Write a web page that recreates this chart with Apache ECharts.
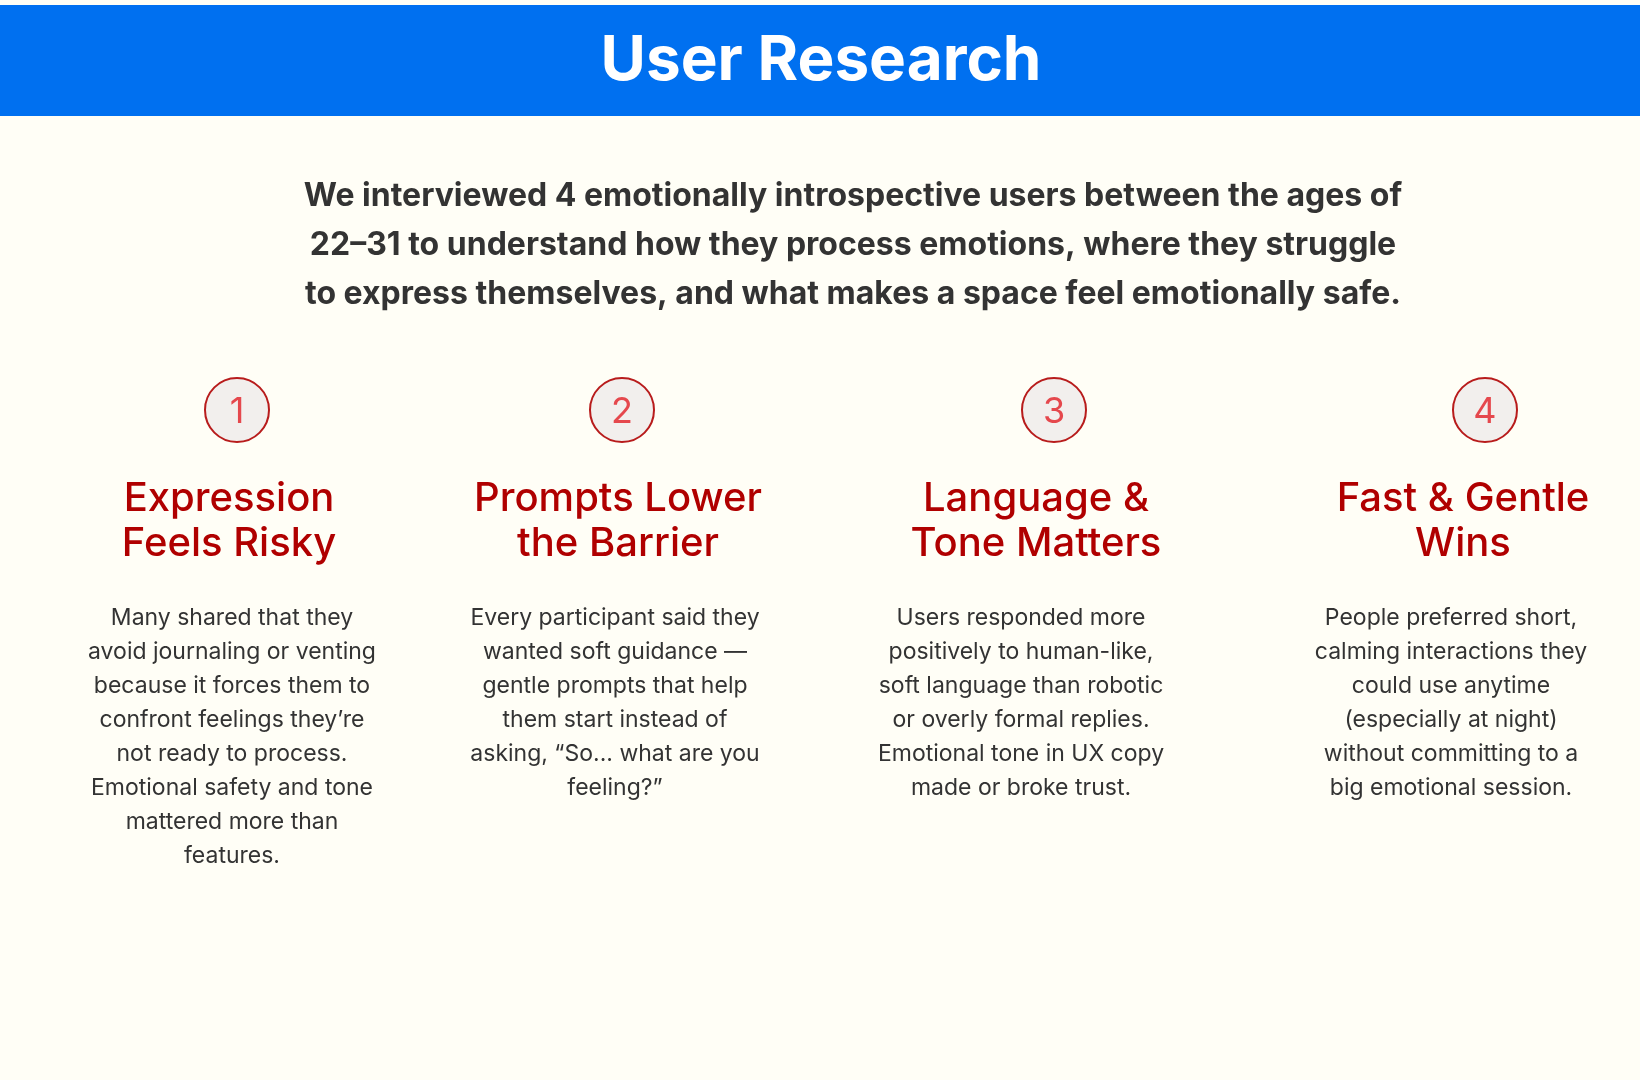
<!DOCTYPE html>
<html lang="en">
<head>
    <meta charset="UTF-8">
    <title>User Research</title>
    <script src="https://cdn.jsdelivr.net/npm/echarts@6.0.0/dist/echarts.min.js"></script>
    <style>
        html, body { margin: 0; padding: 0; background: #fffef6; }
        #chart { width: 1640px; height: 1080px; }
    </style>
</head>
<body>
    <div id="chart"></div>
    <script>
        const heading = 'User Research';
        const intro = [
            'We interviewed 4 emotionally introspective users between the ages of',
            '22\u201331 to understand how they process emotions, where they struggle',
            'to express themselves, and what makes a space feel emotionally safe.'
        ];
        const numbers = ['1', '2', '3', '4'];
        const titles = [
            'Expression\nFeels Risky',
            'Prompts Lower\nthe Barrier',
            'Language &\nTone Matters',
            'Fast & Gentle\nWins'
        ];
        const bodies = [
            'Many shared that they\navoid journaling or venting\nbecause it forces them to\nconfront feelings they\u2019re\nnot ready to process.\nEmotional safety and tone\nmattered more than\nfeatures.',
            'Every participant said they\nwanted soft guidance \u2014\ngentle prompts that help\nthem start instead of\nasking, \u201cSo... what are you\nfeeling?\u201d',
            'Users responded more\npositively to human-like,\nsoft language than robotic\nor overly formal replies.\nEmotional tone in UX copy\nmade or broke trust.',
            'People preferred short,\ncalming interactions they\ncould use anytime\n(especially at night)\nwithout committing to a\nbig emotional session.'
        ];

        // column centres for circle / title / body
        const circleX = [237, 622, 1054, 1485];
        const titleX = [229, 618, 1036, 1463];
        const bodyX = [232, 615, 1021, 1451];
        const font = 'Inter, "Noto Sans", sans-serif';

        const elements = [
            { type: 'rect', shape: { x: 0, y: 5, width: 1640, height: 111 }, style: { fill: '#0070f0' } },
            { type: 'text', x: 821, y: 61, style: { text: heading, fill: '#fff', font: 'bold 62px ' + font, textAlign: 'center', textVerticalAlign: 'middle' } },
            { type: 'text', x: 853, y: 245, style: { text: intro.join('\n'), fill: '#333', font: 'bold 32px ' + font, lineHeight: 49, textAlign: 'center', textVerticalAlign: 'middle' } }
        ];

        numbers.forEach((n, i) => {
            elements.push({ type: 'circle', shape: { cx: circleX[i], cy: 410, r: 32 }, style: { fill: '#f2efed', stroke: '#b81c1c', lineWidth: 2 } });
            elements.push({ type: 'text', x: circleX[i], y: 412, style: { text: n, fill: '#e5484d', font: '36px ' + font, textAlign: 'center', textVerticalAlign: 'middle' } });
            elements.push({ type: 'text', x: titleX[i], y: 521, style: { text: titles[i], fill: '#b00000', font: '500 40px ' + font, lineHeight: 45, textAlign: 'center', textVerticalAlign: 'middle' } });
            elements.push({ type: 'text', x: bodyX[i], y: 601, style: { text: bodies[i], fill: '#333', font: '23px ' + font, lineHeight: 34, textAlign: 'center', textVerticalAlign: 'top' } });
        });

        const chart = echarts.init(document.getElementById('chart'));
        chart.setOption({
            backgroundColor: '#fffef6',
            graphic: { elements: elements }
        });
    </script>
</body>
</html>
